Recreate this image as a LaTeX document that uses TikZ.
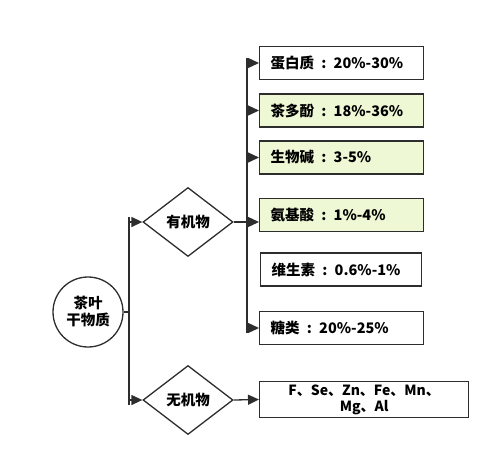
\documentclass[tikz,border=0pt]{standalone}
\usepackage{fontspec}
\setmainfont{Noto Sans CJK SC}
\usetikzlibrary{positioning,shapes.geometric,arrows.meta}
\definecolor{linegray}{RGB}{45,45,45}
\definecolor{leafgreen}{RGB}{238,248,212}

\begin{document}
\begin{tikzpicture}[x=1pt,y=-1pt,line width=1.3pt,color=linegray,
    font=\fontsize{14.5}{17}\selectfont\bfseries]
        \tikzset{
            part/.style={
                    draw,
                    rectangle,
                    minimum height=33pt,
                    text width=142pt,
                    inner xsep=11pt,
                    align=left,
                    anchor=west,
                    text=black
                },
            green/.style={part, fill=leafgreen},
            kind/.style={
                    draw,
                    diamond,
                    minimum width=90pt,
                    minimum height=69pt,
                    inner sep=0pt,
                    text=black
                },
            flag/.style={-{Triangle[length=11pt,width=10pt]}}
        }
        \useasboundingbox (0,0) rectangle (500,466);
        \node[draw,circle,minimum size=70pt,inner sep=0pt,align=center,text=black] (tea) at (88,312) {茶叶\\干物质};
        \node[kind] (org) at (188,222) {有机物};
        \node[kind] (inorg) at (188,400) {无机物};
        \node[part] (protein) at (259,63) {蛋白质\enspace:\enspace20\%-30\%};
        \node[green] (poly) at (259,110.5) {茶多酚\enspace:\enspace18\%-36\%};
        \node[green] (alka) at (259,157.5) {生物碱\enspace:\enspace3-5\%};
        \node[green] (amino) at (259,215) {氨基酸\enspace:\enspace1\%-4\%};
        \node[part,text width=139pt] (vita) at (260,269.5) {维生素\enspace:\enspace0.6\%-1\%};
        \node[part] (sugar) at (259,328) {糖类\enspace:\enspace20\%-25\%};
        \node[part,text width=209pt,inner xsep=0pt,align=center,font=\fontsize{14}{16}\selectfont\bfseries] (metal) at (259,399.5) {F、Se、Zn、Fe、Mn、\\Mg、Al};
        \path (129,312) coordinate (jMid) (129,217) coordinate (jTop) (129,405) coordinate (jBot)
              (247,58) coordinate (bTop) (247,333) coordinate (bBot);
        \draw (tea) -- (jMid);
        \draw (jTop) -- (jBot);
        \draw[flag] (jTop |- org) -- (org.west);
        \draw[flag] (jBot |- inorg) -- (inorg.west);
        \draw (bTop) -- (bBot);
        \draw[flag] (org.east) -- (org.east -| amino.west);
        \foreach \n in {protein,poly,alka,sugar}
            \draw[flag] (bTop |- \n.west) -- (\n.west);
        \draw[flag] (inorg.east) -- (metal.west);
    \end{tikzpicture}
\end{document}
